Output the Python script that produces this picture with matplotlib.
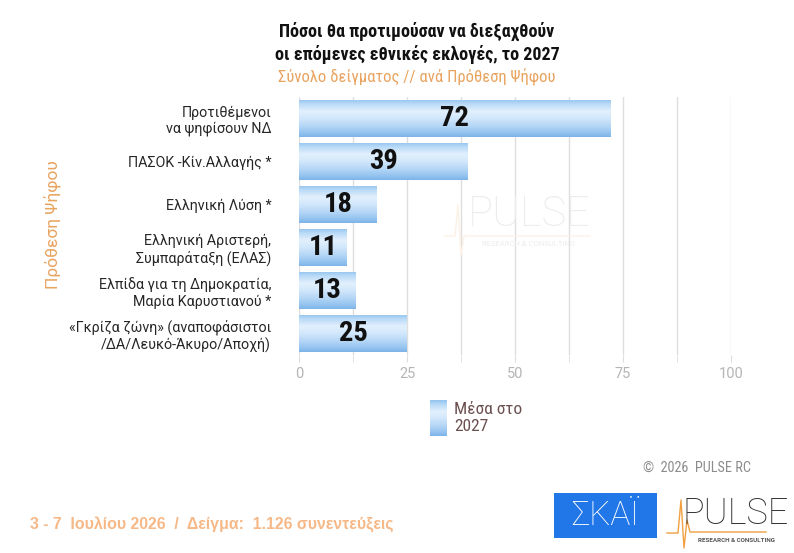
import numpy as np
import matplotlib
matplotlib.use("Agg")
import matplotlib.pyplot as plt
from matplotlib.colors import LinearSegmentedColormap
from matplotlib.patches import Rectangle
from matplotlib.lines import Line2D

# -- data
categories = ["Προτιθέμενοι\nνα ψηφίσουν ΝΔ",
              "ΠΑΣΟΚ -Κίν.Αλλαγής *",
              "Ελληνική Λύση *",
              "Ελληνική Αριστερή,\nΣυμπαράταξη (ΕΛΑΣ)",
              "Ελπίδα για τη Δημοκρατία,\nΜαρία Καρυστιανού *",
              "«Γκρίζα ζώνη» (αναποφάσιστοι\n/ΔΑ/Λευκό-Άκυρο/Αποχή)"]
values = [72, 39, 18, 11, 13, 25]
series_name = "Μέσα στο\n2027"
x_ticks = [0, 25, 50, 75, 100]

COND = ["Roboto Condensed", "Liberation Sans Narrow", "DejaVu Sans"]
plt.rcParams['font.family'] = ["Roboto", "DejaVu Sans"]

ORANGE = "#e9a35f"
bar_cmap = LinearSegmentedColormap.from_list(
    "barblue", [(0.0, "#93c4ef"), (0.12, "#b9daf7"), (0.32, "#e2f0fd"),
                (0.5, "#d3e8fb"), (0.75, "#afd3f5"), (0.92, "#8fc0ee"), (1.0, "#7db4e8")])
grad = np.linspace(0, 1, 64).reshape(-1, 1)

fig = plt.figure(figsize=(7.94, 5.53), dpi=100)
ax = fig.add_axes([299/794, 1-355/553, 432/794, 258.5/553])

ypos = np.arange(len(categories))
bars = ax.barh(ypos, values, height=0.86, color="none", edgecolor="none", zorder=2)
for b, v in zip(bars, values):
    x0, y0, w, h = b.get_x(), b.get_y(), b.get_width(), b.get_height()
    im = ax.imshow(grad, cmap=bar_cmap, aspect="auto", origin="upper",
                   extent=(x0, x0 + w, y0 + h, y0), zorder=2, interpolation="bilinear")
    im.set_clip_path(b)
    ax.text(x0 + w / 2, y0 + h / 2, str(v), ha="center", va="center",
            fontsize=20.5, fontweight="bold", family=COND, color="#111111", zorder=3)

ax.set_xlim(0, 100)
ax.set_ylim(len(categories) - 0.5, -0.5)
ax.set_xticks(x_ticks)
ax.set_xticks(np.arange(12.5, 100, 25), minor=True)
ax.set_yticks(ypos)
ax.set_yticklabels(categories, fontsize=10.3, color="#262626", multialignment="right")
ax.tick_params(axis="y", length=0, pad=20)
ax.tick_params(axis="x", which="both", length=5, color="#dddddd", labelcolor="#b5b5b5",
               labelsize=10.5, pad=4)
ax.grid(axis="x", which="both", color="#dedede", linewidth=1, zorder=0)
ax.set_axisbelow(True)
for s in ax.spines.values():
    s.set_visible(False)

ax.set_ylabel("Πρόθεση Ψήφου", color=ORANGE, fontsize=12.5)
ax.yaxis.set_label_coords(53/794, 1-225/553, transform=fig.transFigure)
ax.yaxis.label.set_va("center")

# titles
fig.text(417/794, 1-43/553, "Πόσοι θα προτιμούσαν να διεξαχθούν\nοι επόμενες εθνικές εκλογές, το 2027",
         ha="center", va="center", fontsize=13, fontweight="bold", family=COND,
         color="#111111", linespacing=1.3)
fig.text(417/794, 1-77/553, "Σύνολο δείγματος // ανά Πρόθεση Ψήφου", ha="center", va="center",
         fontsize=12, family=COND, color=ORANGE)

# legend
lax = fig.add_axes([430/794, 1-436/553, 17/794, 36/553])
lax.imshow(grad, cmap=bar_cmap, aspect="auto", interpolation="bilinear")
lax.axis("off")
fig.text(454/794, 1-418/553, series_name, ha="left", va="center", fontsize=12.5,
         family=COND, color="#6b4f4f", linespacing=1.15)

# watermark
fig.text(529/794, 1-215/553, "PULSE", ha="center", va="center", fontsize=30,
         fontweight="light", color="#ececec", zorder=0)
fig.text(529/794, 1-244/553, "RESEARCH & CONSULTING", ha="center", va="center", fontsize=5.5,
         color="#ececec", zorder=0)
fig.lines.append(Line2D([445/794, 455/794, 458/794, 461/794, 464/794, 590/794],
                        [1-236/553, 1-236/553, 1-205/553, 1-255/553, 1-236/553, 1-236/553],
                        transform=fig.transFigure, color="#fcf1e6", linewidth=1, zorder=0))

# footer
fig.text(697/794, 1-468/553, "©  2026  PULSE RC", ha="center", va="center", fontsize=10.3,
         family=COND, color="#8c8c8c")
fig.text(30/794, 1-525/553, "3 - 7  Ιουλίου 2026  /  Δείγμα:  1.126 συνεντεύξεις",
         ha="left", va="center", fontsize=11.4, fontweight="bold",
         family=["Liberation Sans", "DejaVu Sans"], color="#f6b887")

# logos
fig.patches.append(Rectangle((554/794, 1-538/553), 103/794, 45/553, transform=fig.transFigure,
                             facecolor="#2277e8", edgecolor="none"))
fig.text(605/794, 1-516/553, "ΣΚΑΪ", ha="center", va="center", fontsize=24, color="white",
         fontweight="light")
fig.text(736/794, 1-514/553, "PULSE", ha="center", va="center", fontsize=26, color="#333333",
         fontweight="light")
fig.lines.append(Line2D([667/794, 678/794, 681/794, 684/794, 687/794, 690/794, 766/794],
                        [1-533/553, 1-533/553, 1-500/553, 1-548/553, 1-520/553, 1-532/553, 1-532/553],
                        transform=fig.transFigure, color="#f0a040", linewidth=1))
fig.text(736/794, 1-541/553, "RESEARCH & CONSULTING", ha="center", va="center", fontsize=4.5,
         fontweight="bold", color="#555555")

fig.savefig("out.png", dpi=100)
